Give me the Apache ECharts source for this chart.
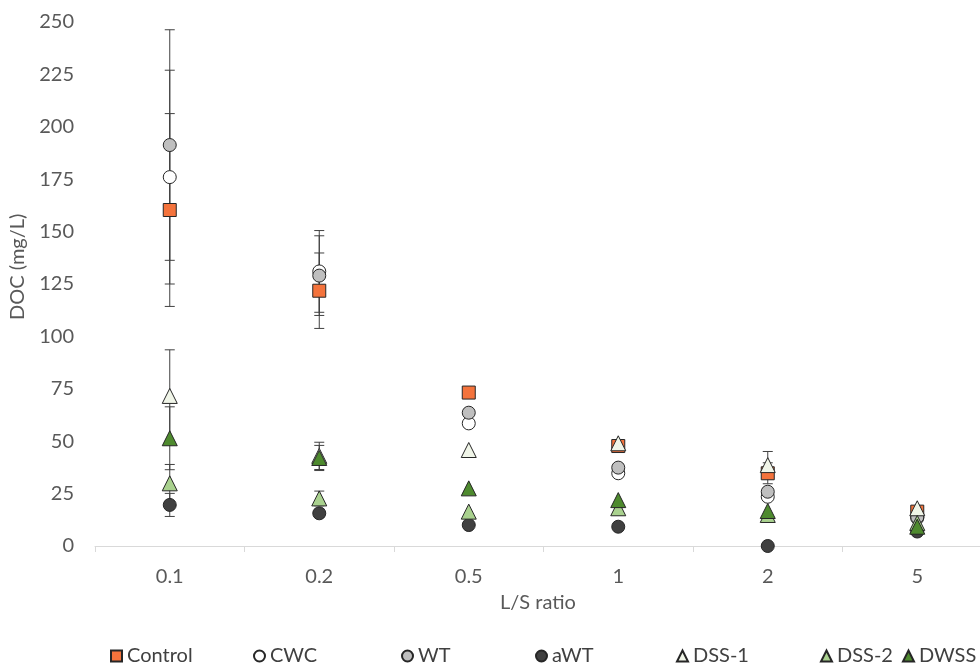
<!DOCTYPE html>
<html><head><meta charset="utf-8">
<script src="https://cdn.jsdelivr.net/npm/echarts@6/dist/echarts.min.js"></script>
<style>html,body{margin:0;padding:0;background:#fff;overflow:hidden}#c{width:1000px;height:667px}</style>
</head><body><div id="c"></div>
<script>
const categories = ['0.1', '0.2', '0.5', '1', '2', '5'];
const yTicks = [0, 25, 50, 75, 100, 125, 150, 175, 200, 225, 250];

const controlVals = [160.3, 121.8, 73.2, 47.7, 34.7, 16.4];
const controlErr  = [46, 18, 0, 0, 5, 0];
const cwcVals     = [176, 131, 58.5, 34.7, 23.5, 13.3];
const cwcErr      = [51, 19.5, 0, 0, 0, 0];
const wtVals      = [191.3, 129, 63.6, 37.4, 25.9, 13.8];
const wtErr       = [55, 19, 0, 0, 0, 0];
const awtVals     = [19.6, 15.6, 10, 9.2, 0, 6.9];
const awtErr      = [5.5, 2, 0, 0, 0, 0];
const dss1Vals    = [71.6, 43, 45.8, 49, 38.6, 18];
const dss1Err     = [22, 6.5, 0, 0, 6.5, 0];
const dss2Vals    = [29.9, 22.7, 16.4, 18, 14.8, 11];
const dss2Err     = [9, 3.5, 0, 0, 0, 0];
const dwssVals    = [51.4, 42, 27.5, 21.9, 16.7, 9.2];
const dwssErr     = [15, 6, 0, 0, 0, 0];

const seriesDefs = [
  {name: 'Control', vals: controlVals, err: controlErr, symbol: 'rect', size: 13, color: '#F4733C'},
  {name: 'CWC', vals: cwcVals, err: cwcErr, symbol: 'circle', size: 13, color: '#FFFFFF'},
  {name: 'WT', vals: wtVals, err: wtErr, symbol: 'circle', size: 13, color: '#BFBFBF'},
  {name: 'aWT', vals: awtVals, err: awtErr, symbol: 'circle', size: 13, color: '#404040'},
  {name: 'DSS-1', vals: dss1Vals, err: dss1Err, symbol: 'triangle', size: 15, color: '#F0F5E8'},
  {name: 'DSS-2', vals: dss2Vals, err: dss2Err, symbol: 'triangle', size: 15, color: '#A9D18E'},
  {name: 'DWSS', vals: dwssVals, err: dwssErr, symbol: 'triangle', size: 15, color: '#4E8A2E'}
];
const legendLefts = [110, 253, 401, 535, 676, 820, 902];

const FONT = 'Lato';
const chart = echarts.init(document.getElementById('c'), null, {renderer: 'canvas'});

const series = [];
seriesDefs.forEach((d, si) => {
  const errData = [];
  d.vals.forEach((v, i) => { if (d.err[i] > 0) errData.push([i, v - d.err[i], v + d.err[i]]); });
  series.push({
    type: 'custom', name: d.name + '_err', z: 1, silent: true,
    data: errData,
    renderItem: function (params, api) {
      const x = api.value(0);
      const lo = api.coord([x, api.value(1)]);
      const hi = api.coord([x, api.value(2)]);
      const w = 5;
      const st = {stroke: '#404040', lineWidth: 1};
      return {type: 'group', children: [
        {type: 'line', shape: {x1: lo[0], y1: lo[1], x2: hi[0], y2: hi[1]}, style: st},
        {type: 'line', shape: {x1: lo[0]-w, y1: lo[1], x2: lo[0]+w, y2: lo[1]}, style: st},
        {type: 'line', shape: {x1: hi[0]-w, y1: hi[1], x2: hi[0]+w, y2: hi[1]}, style: st}
      ]};
    }
  });
});
seriesDefs.forEach((d, si) => {
  series.push({
    type: 'scatter', name: d.name, z: 2 + si,
    symbol: d.symbol, symbolSize: d.size,
    data: d.vals.map((v, i) => [i, v]),
    itemStyle: {color: d.color, borderColor: '#262626', borderWidth: 1, opacity: 1}
  });
});

const legends = seriesDefs.map((d, i) => ({
  data: [d.name], left: legendLefts[i], top: 646, padding: 0,
  itemWidth: 11, itemHeight: 11, itemGap: 6, selectedMode: false,
  textStyle: {fontFamily: FONT, fontSize: 20, color: '#404040', padding: [0,0,0,0]}
}));

chart.setOption({
  animation: false,
  backgroundColor: '#fff',
  grid: {left: 95, width: 897, top: 22, bottom: 121, containLabel: false},
  legend: legends,
  xAxis: {
    type: 'category', data: categories, boundaryGap: true,
    axisLine: {show: true, lineStyle: {color: '#D9D9D9', width: 1}},
    axisTick: {show: true, inside: false, length: 6, lineStyle: {color: '#D9D9D9'}},
    axisLabel: {fontFamily: FONT, fontSize: 20, color: '#595959', margin: 21},
    splitLine: {show: false}
  },
  yAxis: {
    type: 'value', min: 0, max: 250, interval: 25,
    axisLine: {show: false}, axisTick: {show: false},
    splitLine: {show: false},
    axisLabel: {fontFamily: FONT, fontSize: 20, color: '#595959', margin: 21,
      formatter: v => (yTicks.indexOf(v) >= 0 ? String(v) : '')}
  },
  graphic: [
    {type: 'text', left: 500, top: 593, style: {text: 'L/S ratio', font: '20px ' + FONT, fill: '#595959'}},
    {type: 'text', x: 8, y: 320, rotation: Math.PI / 2, style: {text: 'DOC (mg/L)', font: '20px ' + FONT, fill: '#595959', textAlign: 'left', textVerticalAlign: 'top'}}
  ],
  series: series
});
</script></body></html>
